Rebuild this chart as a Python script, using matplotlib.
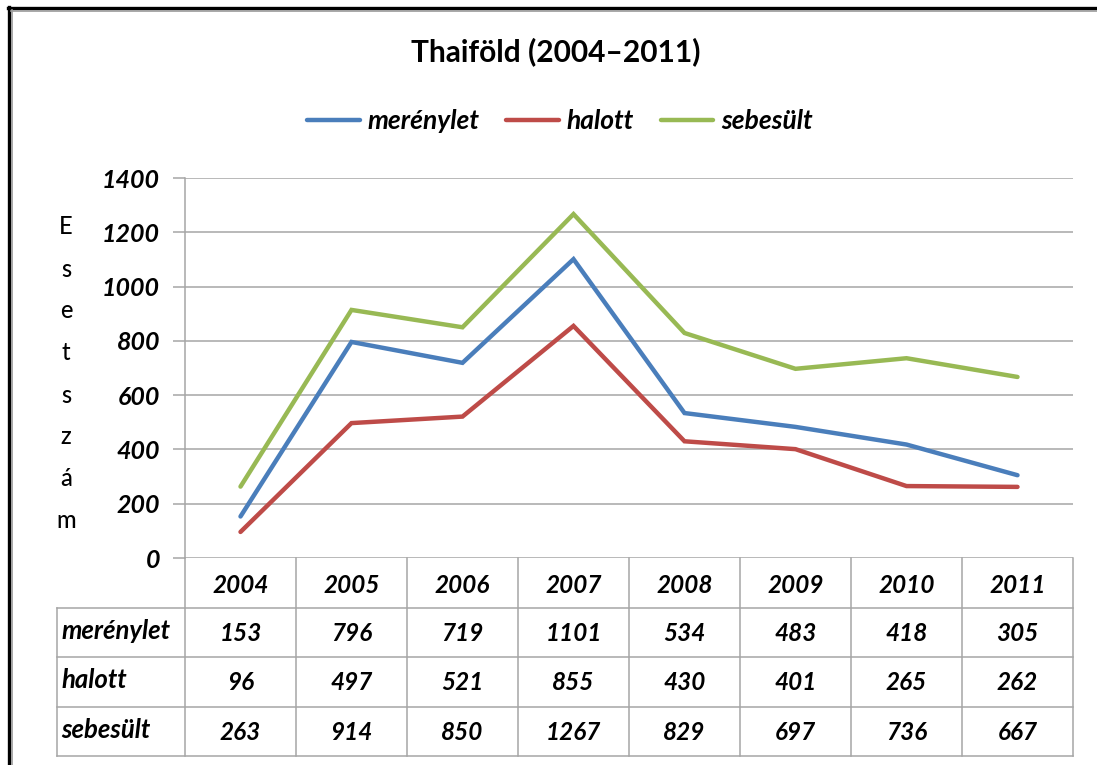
import numpy as np
import matplotlib.pyplot as plt
from matplotlib.lines import Line2D

years = ['2004', '2005', '2006', '2007', '2008', '2009', '2010', '2011']
merenylet = [153, 796, 719, 1101, 534, 483, 418, 305]
halott = [96, 497, 521, 855, 430, 401, 265, 262]
sebesult = [263, 914, 850, 1267, 829, 697, 736, 667]
series_names = ['merénylet', 'halott', 'sebesült']
colors = ['#4A7EBB', '#BE4B48', '#98B954']

W, H = 1097, 765
plt.rcParams['font.family'] = ['Lato', 'DejaVu Sans']
grid_col = '#A6A6A6'

fig = plt.figure(figsize=(W / 100, H / 100), dpi=100)

def px(x0, y0, x1, y1):
    # pixel box -> figure fraction rect
    return [x0 / W, 1 - y1 / H, (x1 - x0) / W, (y1 - y0) / H]

# frame (top and left only, the rest is cut off)
fig.add_artist(Line2D([8 / W, 1.01], [1 - 7.5 / H] * 2, color='black', lw=2.4, transform=fig.transFigure))
fig.add_artist(Line2D([8.5 / W] * 2, [-0.01, 1 - 7 / H], color='black', lw=2.4, transform=fig.transFigure))
fig.add_artist(Line2D([11 / W, 1.01], [1 - 10.5 / H] * 2, color='#9A9A9A', lw=1.2, transform=fig.transFigure))
fig.add_artist(Line2D([11.5 / W] * 2, [-0.01, 1 - 10 / H], color='#9A9A9A', lw=1.2, transform=fig.transFigure))

ax = fig.add_axes(px(185, 178, 1073, 558))
x = np.arange(len(years)) + 0.5
for vals, name, c in zip([merenylet, halott, sebesult], series_names, colors):
    ax.plot(x, vals, color=c, lw=3.2, label=name, solid_capstyle='round', solid_joinstyle='miter')

ax.set_xlim(0, len(years))
ax.set_ylim(0, 1400)
ax.set_yticks(range(0, 1401, 200))
ax.set_yticklabels([str(v) for v in range(0, 1401, 200)], fontsize=18,
                   fontweight='bold', fontstyle='italic')
ax.set_xticks([])
ax.grid(axis='y', color=grid_col, lw=1.1)
ax.set_axisbelow(True)
for s in ['top', 'right', 'bottom']:
    ax.spines[s].set_visible(False)
ax.spines['left'].set_color(grid_col)
ax.spines['left'].set_linewidth(1.1)
ax.tick_params(axis='y', length=9, width=1.1, color=grid_col, pad=9)

# data table under the plot
tx = fig.add_axes(px(57, 558, 1073, 756))
lab_w = 128 / 111
tx.set_xlim(-lab_w, len(years))
tx.set_ylim(4, 0)
tx.axis('off')
for i in range(len(years) + 1):
    tx.plot([i, i], [0, 4], color=grid_col, lw=1.1, clip_on=False)
tx.plot([-lab_w, -lab_w], [1, 4], color=grid_col, lw=1.1, clip_on=False)
for r in range(1, 5):
    tx.plot([-lab_w, len(years)], [r, r], color=grid_col, lw=1.1, clip_on=False)
fs = 17.5
for i, yr in enumerate(years):
    tx.text(i + 0.5, 0.55, yr, ha='center', va='center', fontsize=fs,
            fontweight='bold', fontstyle='italic')
for r, (name, vals) in enumerate(zip(series_names, [merenylet, halott, sebesult])):
    tx.text(-lab_w + 0.04, r + 1.47, name, ha='left', va='center', fontsize=18.5,
            fontweight='bold', fontstyle='italic')
    for i, v in enumerate(vals):
        tx.text(i + 0.5, r + 1.52, str(v), ha='center', va='center', fontsize=fs,
                fontweight='bold', fontstyle='italic')

# title and legend
fig.text(556 / W, 1 - 52 / H, 'Thaiföld (2004–2011)', ha='center', va='center',
         fontsize=21.5, fontweight='bold')
leg = fig.legend(loc='center', bbox_to_anchor=(560 / W, 1 - 121 / H), ncol=3,
                 frameon=False, handlelength=2.0, handletextpad=0.3, columnspacing=1.0,
                 prop={'size': 19, 'weight': 'bold', 'style': 'italic'})

# vertical axis label, one letter per line
for k, ch in enumerate('Esetszám'):
    fig.text(66 / W, 1 - (227 + k * 42) / H, ch, ha='center', va='center',
             fontsize=17, fontweight='medium')

fig.savefig('out.png', dpi=100)
